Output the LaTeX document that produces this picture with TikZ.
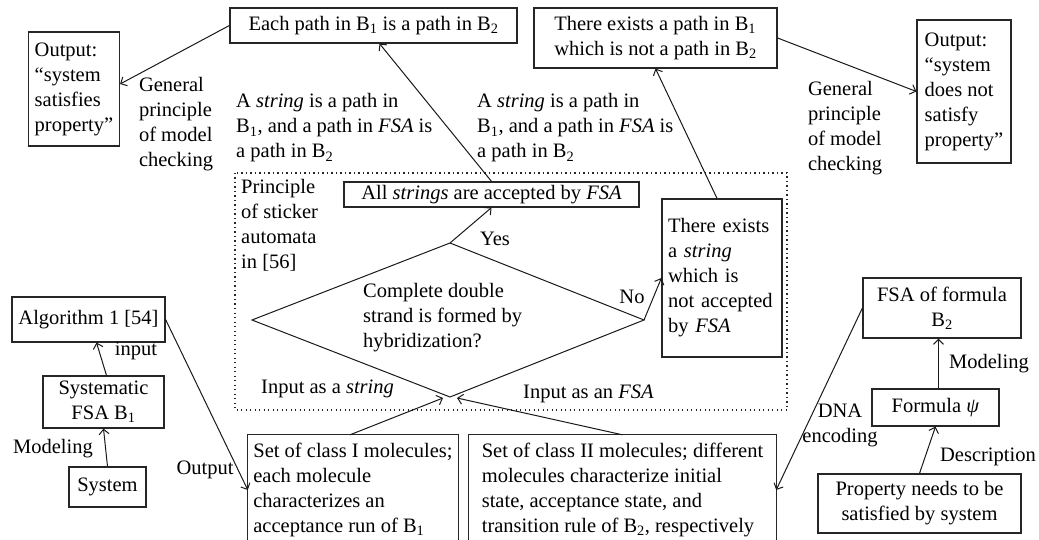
\documentclass[tikz,border=0pt]{standalone}
\usepackage{fontspec}
\setmainfont{Liberation Serif}
\usetikzlibrary{arrows.meta}
\begin{document}
\begin{tikzpicture}[x=1pt,y=-1pt,
  font=\fontsize{20.5}{25}\selectfont,
  box/.style={draw=black!85, line width=1.2pt, inner sep=0pt},
  lbl/.style={inner sep=0pt, align=left},
  arr/.style={draw=black!90, line width=1pt, -{Straight Barb[length=5pt,width=10pt]}},
  edge/.style={draw=black!90, line width=1pt}]
\useasboundingbox (0,0) rectangle (1039,540);
\clip (0,0) rectangle (1039,540);

% top row
\node[box, minimum width=91, minimum height=114, align=left] (out1) at (74,89) {Output:\\“system\\satisfies\\property”};
\node[box, minimum width=287, minimum height=35] (each) at (373.5,25.5) {Each path in B\textsubscript{1} is a path in B\textsubscript{2}};
\node[box, minimum width=243, minimum height=60, align=left] (exists) at (655.5,38) {There exists a path in B\textsubscript{1}\\which is not a path in B\textsubscript{2}};
\node[box, minimum width=94, minimum height=143, align=left] (out2) at (964,91.5) {Output:\\“system\\does not\\satisfy\\property”};

\node[lbl] (gp1) at (176,124) {General\\principle\\of model\\checking};
\node[lbl] (gp2) at (845,128) {General\\principle\\of model\\checking};
\node[lbl, anchor=west] (as1) at (236,128) {A \textit{string} is a path in\\B\textsubscript{1}, and a path in \textit{FSA} is\\a path in B\textsubscript{2}};
\node[lbl, anchor=west] (as2) at (477,128) {A \textit{string} is a path in\\B\textsubscript{1}, and a path in \textit{FSA} is\\a path in B\textsubscript{2}};

% dotted region
\draw[black!85, line width=1.1pt, dash pattern=on 1.1pt off 3.4pt] (235,173) rectangle (787,410);
\node[lbl, anchor=north west] (princ) at (241,179) {Principle\\of sticker\\automata\\in [56]};

\node[box, minimum width=295, minimum height=25] (allstr) at (491.5,194.5) {All \textit{strings} are accepted by \textit{FSA}};
\node[box, minimum width=120, minimum height=158, align=left, text width=108] (exstr) at (722,278) {There exists\\a \textit{string}\\which is\\not accepted\\by \textit{FSA}};

% diamond
\coordinate (dl) at (252,320);
\coordinate (dt) at (450,243);
\coordinate (dr) at (644,320);
\coordinate (db) at (450,397);
\draw[edge] (dl) -- (dt) -- (dr) -- (db) -- cycle;
\node[lbl, anchor=west] (dq) at (363,318) {Complete double\\strand is formed by\\hybridization?};
\coordinate (inL) at (443,398);
\coordinate (inR) at (457,398);

\draw[arr] (dt) -- (allstr.south);
\node[lbl] (yes) at (495,239) {Yes};
\draw[arr] (dr) -- (exstr.west);
\node[lbl] (no) at (632,297) {No};

\draw[arr] (allstr.north) -- ([xshift=6pt]each.south);
\draw[arr] ([xshift=-5pt]exstr.north) -- (exists.south);
\draw[arr] (each.west) -- ([yshift=5pt]out1.east);
\draw[arr] (exists.east) -- (out2.west);

% left bottom
\node[box, minimum width=153, minimum height=45] (alg) at (88.5,319.5) {Algorithm 1 [54]};
\node[box, minimum width=121, minimum height=52, align=center] (sysfsa) at (103.5,402) {Systematic\\FSA B\textsubscript{1}};
\node[box, minimum width=77, minimum height=40] (sys) at (107.5,487) {System};
\draw[arr] (sys.north) -- (sysfsa.south);
\node[lbl] (mod1) at (53,449) {Modeling};
\draw[arr] ([xshift=3pt]sysfsa.north) -- ([xshift=8pt]alg.south);
\node[lbl] (inp) at (136,351) {input};

% class boxes (bottom edge lies outside the picture)
\node[inner sep=0pt, minimum width=210, minimum height=110, align=left] (c1) at (353,490) {Set of class I molecules;\\each molecule\\characterizes an\\acceptance run of B\textsubscript{1}};
\draw[box] (c1.south west) -- (c1.north west) -- (c1.north east) -- (c1.south east);
\node[inner sep=0pt, minimum width=307, minimum height=110, align=left] (c2) at (622.5,490) {Set of class II molecules; different\\molecules characterize initial\\state, acceptance state, and\\transition rule of B\textsubscript{2}, respectively};
\draw[box] (c2.south west) -- (c2.north west) -- (c2.north east) -- (c2.south east);

\draw[arr] (alg.east) -- (c1.west);
\node[lbl] (outl) at (205,470) {Output};
\draw[arr] ([xshift=-3pt]c1.north) -- (inL);
\draw[arr] (c2.north) -- (inR);
\node[lbl, anchor=west] (ias) at (261,389) {Input as a \textit{string}};
\node[lbl, anchor=west] (iaf) at (523,394) {Input as an \textit{FSA}};

% right bottom
\node[box, minimum width=158, minimum height=60, align=center] (fsaf) at (942,308) {FSA of formula\\B\textsubscript{2}};
\node[box, minimum width=127, minimum height=37] (form) at (935.5,407.5) {Formula \textit{ψ}};
\node[box, minimum width=203, minimum height=59, align=center] (prop) at (919.5,503.5) {Property needs to be\\satisfied by system};
\draw[arr] ([xshift=3pt]form.north) -- ([xshift=3pt]form.north |- fsaf.south);
\node[lbl] (mod2) at (989,364) {Modeling};
\draw[arr] (prop.north) -- (form.south);
\node[lbl] (desc) at (988,457) {Description};
\draw[arr] (fsaf.west) -- (c2.east);
\node[lbl, align=center] (dna) at (840,425) {DNA\\encoding};
\end{tikzpicture}
\end{document}
